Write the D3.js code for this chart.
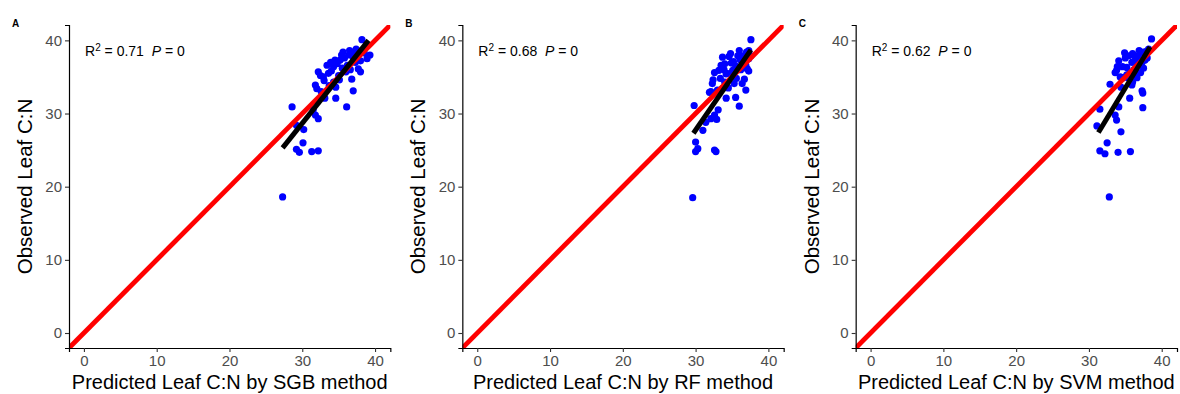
<!DOCTYPE html>
<html>
<head>
<meta charset="utf-8">
<script src="https://cdn.jsdelivr.net/npm/d3@7"></script>
<style>
  body { margin: 0; background: #fff; }
  text { font-family: "Liberation Sans", Arial, sans-serif; }
</style>
</head>
<body>
<div id="chart"></div>
<script>
// predicted vs observed leaf C:N, one array per model
const sgbPoints = [
  [27.3, 18.6], [28.6, 30.9], [29.2, 25.1], [29.6, 24.7], [30.1, 26.0], [30.2, 27.8],
  [31.3, 24.8], [32.2, 24.9], [32.2, 29.3], [31.8, 29.8], [31.5, 30.5], [29.2, 28.4],
  [34.6, 32.1], [36.1, 30.9], [33.1, 32.1], [37.0, 33.1], [36.8, 34.7],
  [31.8, 33.9], [32.0, 33.4], [32.2, 35.7], [32.5, 35.2], [32.9, 35.0], [33.4, 36.6],
  [34.3, 34.3], [34.3, 36.4], [34.5, 37.3], [35.2, 37.3], [35.4, 38.0], [35.5, 36.2],
  [36.0, 35.7], [36.4, 38.0], [36.8, 38.4], [37.0, 37.7], [37.3, 37.0], [37.7, 38.2],
  [38.2, 38.6], [38.2, 40.1], [38.9, 37.5], [39.3, 38.0], [37.7, 36.1], [38.0, 35.7],
  [33.6, 35.5], [33.9, 37.0], [34.8, 36.8], [35.0, 35.2], [35.8, 37.6], [36.2, 36.6],
  [36.6, 36.0], [33.0, 34.5], [34.0, 35.8], [35.6, 38.4], [36.5, 38.6], [37.4, 38.8],
  [38.5, 38.3], [38.0, 37.2], [35.1, 34.6], [33.7, 33.8], [32.6, 33.0], [34.6, 33.6]
];
const rfPoints = [
  [29.6, 18.5], [29.8, 31.1], [30.0, 26.1], [30.3, 25.2], [30.0, 24.8], [31.0, 27.7],
  [32.6, 25.0], [32.8, 24.8], [32.1, 29.3], [32.6, 29.8], [31.9, 32.9], [32.1, 33.0],
  [32.3, 34.1], [32.6, 35.6], [33.0, 33.2], [33.7, 33.4], [34.2, 32.1], [35.5, 32.2],
  [35.3, 34.1], [36.0, 31.0], [36.9, 33.2], [36.7, 34.7], [36.4, 34.1], [37.6, 40.1],
  [37.1, 36.1], [37.3, 35.8], [37.3, 38.6], [34.8, 38.2], [33.7, 37.7], [33.5, 36.6],
  [36.0, 38.6], [36.4, 37.9], [34.2, 35.4], [35.1, 35.9], [33.2, 35.9], [34.0, 36.8],
  [34.3, 35.5], [34.6, 37.8], [35.2, 37.1], [35.5, 36.5], [35.8, 37.9], [36.1, 37.4],
  [36.7, 37.8], [37.0, 38.4], [37.3, 37.5], [37.6, 37.9], [33.4, 34.8], [34.0, 34.3],
  [35.0, 35.6], [36.2, 36.0], [33.9, 36.0], [34.5, 33.5], [32.4, 34.6], [33.1, 30.5],
  [32.9, 29.2], [31.4, 28.8], [35.6, 34.8], [36.9, 36.6], [34.9, 36.9]
];
const svmPoints = [
  [32.8, 18.6], [31.5, 24.9], [32.2, 24.5], [32.5, 26.0], [34.0, 24.7], [35.7, 24.8],
  [34.4, 27.5], [31.1, 28.3], [33.8, 29.1], [33.6, 29.8], [31.5, 30.6], [35.6, 32.1],
  [37.4, 30.8], [37.4, 32.8], [34.1, 30.9], [37.3, 33.1], [32.9, 34.0], [34.7, 34.9],
  [35.4, 34.9], [36.6, 34.9], [33.8, 35.9], [33.6, 35.6], [35.2, 36.3], [34.1, 37.2],
  [35.9, 37.0], [36.4, 37.6], [36.8, 37.9], [37.5, 38.4], [38.2, 38.8], [38.6, 40.2],
  [37.5, 36.2], [37.3, 37.0], [37.7, 37.3], [36.2, 36.0], [35.6, 35.5], [34.6, 36.4],
  [35.0, 37.6], [36.0, 38.2], [36.9, 38.6], [37.8, 38.0], [38.0, 37.6], [36.6, 36.6],
  [35.2, 35.3], [34.4, 33.6], [35.9, 33.9], [36.3, 35.6], [34.9, 38.3], [33.9, 36.4],
  [37.1, 35.6], [36.0, 34.3], [34.3, 35.0], [35.5, 37.9], [37.9, 38.5], [36.6, 37.4]
];

// fitted regression lines: [[x0, y0], [x1, y1]]
const sgbFit = [[27.3, 25.3], [39.1, 40.0]];
const rfFit = [[29.7, 27.3], [37.6, 38.7]];
const svmFit = [[31.3, 27.4], [38.4, 39.1]];

const panelLetters = ["A", "B", "C"];
const xTitles = ["Predicted Leaf C:N by SGB method", "Predicted Leaf C:N by RF method", "Predicted Leaf C:N by SVM method"];
const rSquared = ["0.71", "0.68", "0.62"];
const pValues = ["0", "0", "0"];
const tickValues = [0, 10, 20, 30, 40];

const panels = [
  {points: sgbPoints, fit: sgbFit},
  {points: rfPoints, fit: rfFit},
  {points: svmPoints, fit: svmFit}
];

const W = 1180, H = 394;
const panelW = W / 3;
const margin = {top: 25, right: 3, bottom: 46, left: 69};
const innerW = panelW - margin.left - margin.right;
const innerH = H - margin.top - margin.bottom;
const domain = [-2.05, 42.1];

const svg = d3.select("#chart").append("svg")
  .attr("width", W)
  .attr("height", H);

panels.forEach(function(p, i) {
  const g = svg.append("g")
    .attr("transform", "translate(" + (i * panelW + margin.left) + "," + margin.top + ")");

  const x = d3.scaleLinear().domain(domain).range([0, innerW]);
  const y = d3.scaleLinear().domain(domain).range([innerH, 0]);

  g.append("clipPath").attr("id", "clip" + i)
    .append("rect").attr("width", innerW).attr("height", innerH);

  const plot = g.append("g").attr("clip-path", "url(#clip" + i + ")");

  // points
  plot.selectAll("circle")
    .data(p.points)
    .enter().append("circle")
    .attr("cx", d => x(d[0]))
    .attr("cy", d => y(d[1]))
    .attr("r", 3.6)
    .attr("fill", "#0000FF");

  // 1:1 line
  plot.append("line")
    .attr("x1", x(domain[0])).attr("y1", y(domain[0]))
    .attr("x2", x(domain[1])).attr("y2", y(domain[1]))
    .attr("stroke", "#FF0000")
    .attr("stroke-width", 4.8);

  // regression line
  plot.append("line")
    .attr("x1", x(p.fit[0][0])).attr("y1", y(p.fit[0][1]))
    .attr("x2", x(p.fit[1][0])).attr("y2", y(p.fit[1][1]))
    .attr("stroke", "#000")
    .attr("stroke-width", 5);

  // axes
  const xAxis = g.append("g")
    .attr("transform", "translate(0," + innerH + ")")
    .call(d3.axisBottom(x).tickValues(tickValues).tickSizeOuter(0).tickSize(4).tickPadding(3));
  const yAxis = g.append("g")
    .call(d3.axisLeft(y).tickValues(tickValues).tickSizeOuter(0).tickSize(4).tickPadding(3));

  [xAxis, yAxis].forEach(function(a) {
    a.select(".domain").attr("stroke", "#000").attr("stroke-width", 1.2);
    a.selectAll(".tick line").attr("stroke", "#333").attr("stroke-width", 1.1);
    a.selectAll(".tick text")
      .attr("fill", "#4D4D4D")
      .style("font-family", "'Liberation Sans', Arial, sans-serif")
      .style("font-size", "15px");
  });

  // axis titles
  g.append("text")
    .attr("x", innerW / 2)
    .attr("y", innerH + 41)
    .attr("text-anchor", "middle")
    .style("font-size", "20px")
    .text(xTitles[i]);

  g.append("text")
    .attr("transform", "translate(" + (-37) + "," + (innerH / 2) + ") rotate(-90)")
    .attr("text-anchor", "middle")
    .style("font-size", "20.5px")
    .text("Observed Leaf C:N");

  // R2 / P annotation
  const ann = g.append("text")
    .attr("x", 16)
    .attr("y", 31)
    .style("font-size", "14px");
  ann.append("tspan").text("R");
  ann.append("tspan").attr("dy", -5).style("font-size", "10px").text("2");
  ann.append("tspan").attr("dy", 5).text(" = " + rSquared[i] + "\u00a0\u00a0");
  ann.append("tspan").style("font-style", "italic").text("P");
  ann.append("tspan").text(" = " + pValues[i]);

  // panel letter
  svg.append("text")
    .attr("x", i * panelW + 12)
    .attr("y", 27)
    .style("font-size", "10px")
    .style("font-weight", "bold")
    .text(panelLetters[i]);
});
</script>
</body>
</html>
